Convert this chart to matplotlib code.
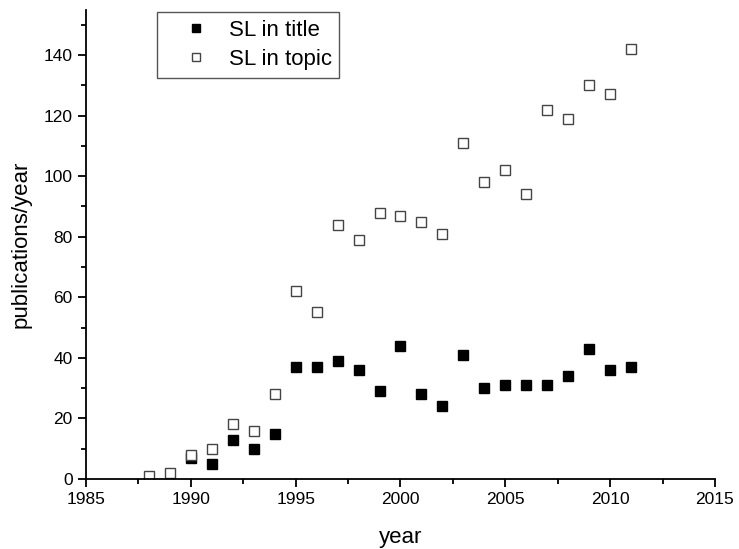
import matplotlib
matplotlib.use("Agg")
import matplotlib.pyplot as plt
from matplotlib.ticker import MultipleLocator

plt.rcParams["font.family"] = ["Liberation Sans", "DejaVu Sans"]

# SL in title
years_title = [1990, 1991, 1992, 1993, 1994, 1995, 1996, 1997, 1998, 1999, 2000,
               2001, 2002, 2003, 2004, 2005, 2006, 2007, 2008, 2009, 2010, 2011]
pubs_title = [7, 5, 13, 10, 15, 37, 37, 39, 36, 29, 44,
              28, 24, 41, 30, 31, 31, 31, 34, 43, 36, 37]

# SL in topic
years_topic = [1988, 1989, 1990, 1991, 1992, 1993, 1994, 1995, 1996, 1997, 1998, 1999,
               2000, 2001, 2002, 2003, 2004, 2005, 2006, 2007, 2008, 2009, 2010, 2011]
pubs_topic = [1, 2, 8, 10, 18, 16, 28, 62, 55, 84, 79, 88,
              87, 85, 81, 111, 98, 102, 94, 122, 119, 130, 127, 142]

fig = plt.figure(figsize=(7.39, 5.49), dpi=100)
ax = fig.add_axes([0.1164, 0.1275, 0.851, 0.855])

ax.plot(years_title, pubs_title, "s", color="black", markersize=7.5,
        linestyle="none", label="SL in title")
ax.plot(years_topic, pubs_topic, "s", markerfacecolor="white", markeredgecolor="#444444",
        markeredgewidth=1.0, markersize=7.5, linestyle="none", label="SL in topic")

ax.set_xlim(1985, 2015)
ax.set_ylim(0, 155)
ax.xaxis.set_major_locator(MultipleLocator(5))
ax.xaxis.set_minor_locator(MultipleLocator(2.5))
ax.yaxis.set_major_locator(MultipleLocator(20))
ax.yaxis.set_minor_locator(MultipleLocator(10))

ax.spines["top"].set_visible(False)
ax.spines["right"].set_visible(False)
ax.spines["left"].set_linewidth(1.3)
ax.spines["bottom"].set_linewidth(1.3)
ax.tick_params(which="major", direction="out", length=6, width=1.3, labelsize=12.5)
ax.tick_params(which="minor", direction="out", length=3.5, width=1.3)

ax.set_xlabel("year", fontsize=16, labelpad=14)
ax.set_ylabel("publications/year", fontsize=16, labelpad=9)

leg = ax.legend(loc="upper left", bbox_to_anchor=(0.11, 1.0), fontsize=16,
                fancybox=False, edgecolor="#555555", framealpha=1,
                markerscale=0.75, handlelength=2.75, handletextpad=0.1,
                borderpad=0.35, labelspacing=0.38, borderaxespad=0.1)
leg.get_frame().set_linewidth(1.0)

fig.savefig("out.png", dpi=100)
